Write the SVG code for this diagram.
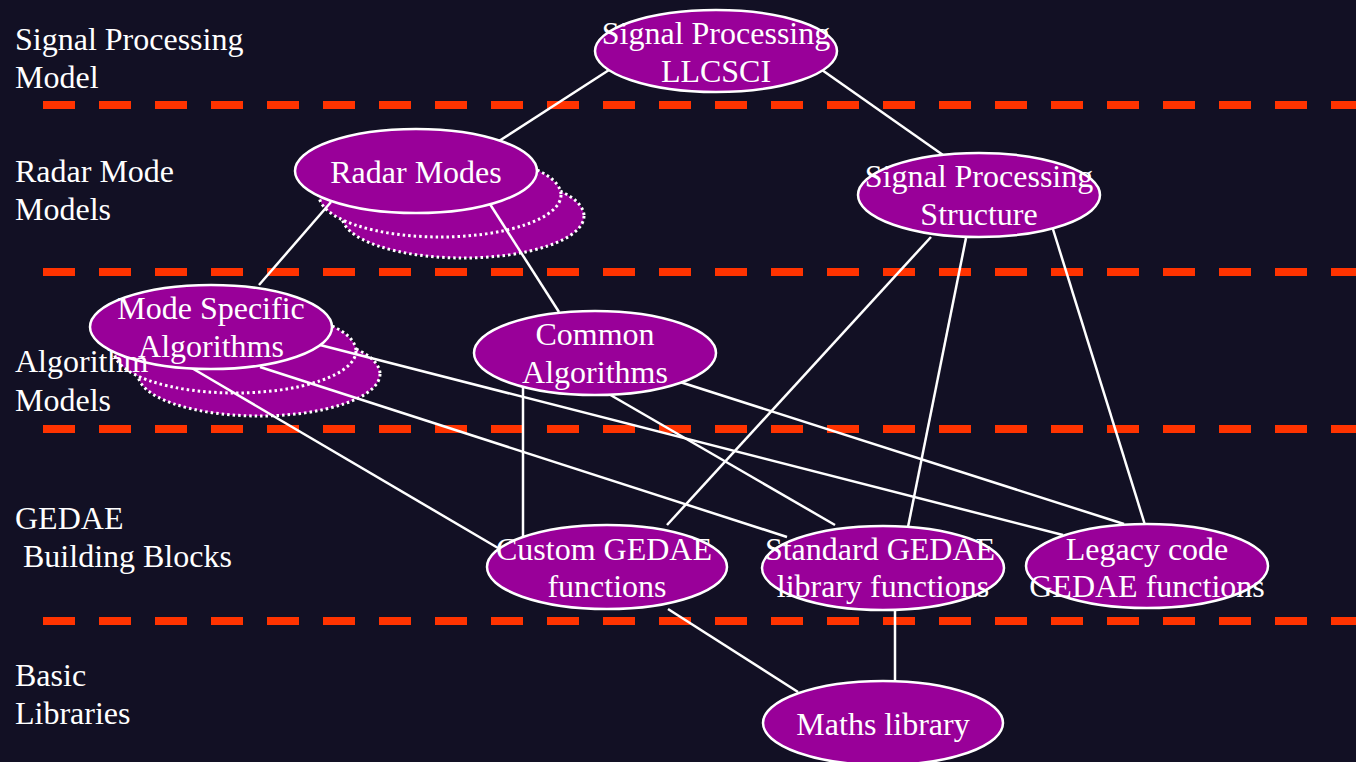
<svg xmlns="http://www.w3.org/2000/svg" width="1356" height="762" viewBox="0 0 1356 762">
<style>
.bg{fill:#121024}
.sep{stroke:#ff3300;stroke-width:8;stroke-dasharray:32 24;fill:none}
.node{fill:#990099;stroke:#ffffff;stroke-width:2.5}
.shadow{fill:#990099;stroke:#ffffff;stroke-width:3;stroke-dasharray:2.5 3}
.edge{stroke:#ffffff;stroke-width:2.5;fill:none}
text{font-family:'Liberation Serif','DejaVu Serif','Times New Roman',Times,serif;font-size:32px;fill:#ffffff}
.c{text-anchor:middle}
</style>
<rect class="bg" x="0" y="0" width="1356" height="762"/>
<g id="separators">
<line class="sep" x1="43" y1="105" x2="1356" y2="105"/>
<line class="sep" x1="43" y1="272" x2="1356" y2="272"/>
<line class="sep" x1="43" y1="429" x2="1356" y2="429"/>
<line class="sep" x1="43" y1="621" x2="1356" y2="621"/>
</g>
<g id="shadows">
<ellipse class="shadow" cx="463" cy="216" rx="121" ry="42"/>
<ellipse class="shadow" cx="440" cy="195" rx="121" ry="42"/>
<ellipse class="shadow" cx="259" cy="374" rx="121" ry="42"/>
<ellipse class="shadow" cx="235" cy="351" rx="121" ry="42"/>
</g>
<g id="connectors">
<line class="edge" x1="609" y1="70" x2="499" y2="141"/>
<line class="edge" x1="822" y1="70" x2="943" y2="155"/>
<line class="edge" x1="331" y1="202" x2="259" y2="285"/>
<line class="edge" x1="488" y1="201" x2="559" y2="312"/>
<line class="edge" x1="931" y1="237" x2="667" y2="525"/>
<line class="edge" x1="966" y1="238" x2="908" y2="527"/>
<line class="edge" x1="1052" y1="226" x2="1145" y2="525"/>
<line class="edge" x1="190" y1="367" x2="498" y2="548"/>
<line class="edge" x1="260" y1="367" x2="787" y2="537"/>
<line class="edge" x1="320" y1="345" x2="1063" y2="535"/>
<line class="edge" x1="523" y1="383" x2="523" y2="540"/>
<line class="edge" x1="607" y1="393" x2="835" y2="525"/>
<line class="edge" x1="680" y1="382" x2="1124" y2="524"/>
<line class="edge" x1="668" y1="609" x2="798" y2="692"/>
<line class="edge" x1="895" y1="609" x2="895" y2="681"/>
</g>
<g id="sp-llcsci">
<ellipse class="node" cx="716" cy="51" rx="121" ry="41"/>
<text class="c" x="716" y="44" font-family="Liberation Serif, serif">Signal Processing</text>
<text class="c" x="716" y="82">LLCSCI</text>
</g>
<g id="sp-structure">
<ellipse class="node" cx="979" cy="195" rx="121" ry="42"/>
<text class="c" x="979" y="187">Signal Processing</text>
<text class="c" x="979" y="225">Structure</text>
</g>
<g id="radar-modes">
<ellipse class="node" cx="416" cy="171" rx="121" ry="42"/>
<text class="c" x="416" y="183">Radar Modes</text>
</g>
<g id="mode-specific">
<ellipse class="node" cx="211" cy="327" rx="121" ry="42"/>
<text class="c" x="211" y="319">Mode Specific</text>
<text class="c" x="211" y="357">Algorithms</text>
</g>
<g id="common-algorithms">
<ellipse class="node" cx="595" cy="353" rx="121" ry="42"/>
<text class="c" x="595" y="345">Common</text>
<text class="c" x="595" y="383">Algorithms</text>
</g>
<g id="custom-gedae">
<ellipse class="node" cx="607" cy="567" rx="120" ry="42"/>
<text class="c" x="604" y="560">Custom GEDAE</text>
<text class="c" x="607" y="597">functions</text>
</g>
<g id="standard-gedae">
<ellipse class="node" cx="883" cy="568" rx="121" ry="42"/>
<text class="c" x="880" y="560">Standard GEDAE</text>
<text class="c" x="883" y="597">library functions</text>
</g>
<g id="legacy-gedae">
<ellipse class="node" cx="1147" cy="566" rx="121" ry="42"/>
<text class="c" x="1147" y="560">Legacy code</text>
<text class="c" x="1147" y="597">GEDAE functions</text>
</g>
<g id="maths-library">
<ellipse class="node" cx="883" cy="723" rx="120" ry="42"/>
<text class="c" x="883" y="735">Maths library</text>
</g>
<g id="layer-labels">
<text x="15" y="50">Signal Processing</text>
<text x="15" y="88">Model</text>
<text x="15" y="182">Radar Mode</text>
<text x="15" y="220">Models</text>
<text x="15" y="372">Algorithm</text>
<text x="15" y="411">Models</text>
<text x="15" y="529">GEDAE</text>
<text x="23" y="567">Building Blocks</text>
<text x="15" y="686">Basic</text>
<text x="15" y="724">Libraries</text>
</g>
</svg>
